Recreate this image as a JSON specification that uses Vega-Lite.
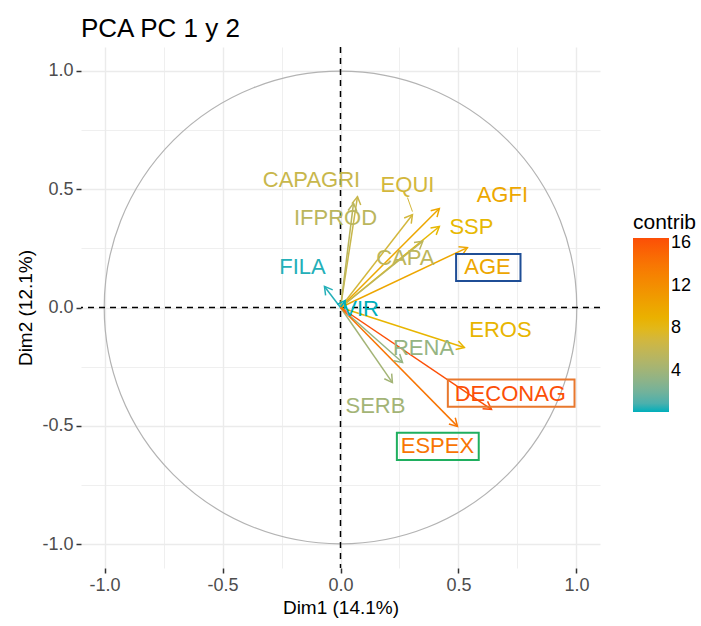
{
  "$schema": "https://vega.github.io/schema/vega-lite/v6.json",
  "width": 519,
  "height": 521,
  "autosize": {"type": "none"},
  "padding": {"left": 81, "top": 47, "right": 101, "bottom": 58},
  "background": "white",
  "config": {
    "view": {"stroke": null},
    "font": "Liberation Sans",
    "legend": {
      "gradientLength": 174,
      "gradientThickness": 36,
      "gradientStrokeWidth": 0,
      "titleFontSize": 21,
      "titleFontWeight": "normal",
      "titleColor": "black",
      "titlePadding": 5,
      "labelFontSize": 18,
      "labelColor": "black",
      "labelOffset": 7,
      "padding": 0
    }
  },
  "title": {"text": "PCA PC 1 y 2", "anchor": "start", "frame": "group", "fontSize": 26, "fontWeight": "normal", "color": "black", "font": "Liberation Sans", "offset": 4},
  "resolve": {"legend": {"color": "independent"}},
  "datasets": {
    "vars": [
      {"name": "CAPAGRI", "x": 0.072, "y": 0.468, "contrib": 6.3, "lx": -0.123, "ly": 0.540},
      {"name": "IFPROD", "x": 0.055, "y": 0.44, "contrib": 5.5, "lx": -0.021, "ly": 0.380},
      {"name": "EQUI", "x": 0.305, "y": 0.392, "contrib": 7.0, "lx": 0.284, "ly": 0.519},
      {"name": "AGFI", "x": 0.419, "y": 0.418, "contrib": 9.9, "lx": 0.686, "ly": 0.473},
      {"name": "SSP", "x": 0.419, "y": 0.342, "contrib": 8.3, "lx": 0.555, "ly": 0.338},
      {"name": "CAPA", "x": 0.349, "y": 0.280, "contrib": 5.6, "lx": 0.275, "ly": 0.207},
      {"name": "AGE", "x": 0.538, "y": 0.253, "contrib": 10.0, "lx": 0.623, "ly": 0.169},
      {"name": "FILA", "x": -0.068, "y": 0.089, "contrib": 0.4, "lx": -0.161, "ly": 0.169},
      {"name": "VIR", "x": 0.02, "y": 0.03, "contrib": 0.2, "lx": 0.085, "ly": -0.008},
      {"name": "EROS", "x": 0.525, "y": -0.169, "contrib": 8.6, "lx": 0.678, "ly": -0.093},
      {"name": "RENA", "x": 0.263, "y": -0.232, "contrib": 3.5, "lx": 0.352, "ly": -0.169},
      {"name": "SERB", "x": 0.22, "y": -0.317, "contrib": 4.2, "lx": 0.148, "ly": -0.414},
      {"name": "DECONAG", "x": 0.64, "y": -0.43, "contrib": 16.4, "lx": 0.720, "ly": -0.367},
      {"name": "ESPEX", "x": 0.496, "y": -0.502, "contrib": 14.0, "lx": 0.411, "ly": -0.586}
    ],
    "boxes": [
      {"box": "AGE", "x1": 0.490, "x2": 0.763, "y1": 0.226, "y2": 0.112},
      {"box": "DECONAG", "x1": 0.455, "x2": 0.992, "y1": -0.304, "y2": -0.419},
      {"box": "ESPEX", "x1": 0.239, "x2": 0.586, "y1": -0.529, "y2": -0.644}
    ],
    "leader": [
      {"x": 0.284, "y": 0.464, "x2": 0.305, "y2": 0.405, "contrib": 7.0}
    ]
  },
  "layer": [
    {
      "data": {"values": [{"cx": 0, "cy": 0}]},
      "mark": {"type": "point", "shape": "circle", "filled": false, "size": 223350, "stroke": "#B3B3B3", "strokeWidth": 1.2, "opacity": 1},
      "encoding": {
        "x": {
          "field": "cx", "type": "quantitative", "title": "Dim1 (14.1%)",
          "scale": {"domain": [-1.1, 1.1], "nice": false, "zero": false},
          "axis": {
            "values": [-1, -0.75, -0.5, -0.25, 0, 0.25, 0.5, 0.75, 1],
            "labelExpr": "abs(datum.value*2 - round(datum.value*2)) < 0.01 ? replace(format(datum.value, '.1f'), '\u2212', '-') : ''",
            "labelOverlap": false,
            "domain": false,
            "grid": true,
            "gridColor": "#EBEBEB",
            "gridWidth": {"condition": {"test": "abs(datum.value*2 - round(datum.value*2)) < 0.01", "value": 1.4}, "value": 0.8},
            "tickColor": {"condition": {"test": "abs(datum.value*2 - round(datum.value*2)) < 0.01", "value": "#333333"}, "value": "transparent"},
            "tickSize": 5,
            "tickWidth": 1.5,
            "labelFontSize": 18,
            "labelColor": "#4D4D4D",
            "labelPadding": 3,
            "titleFontSize": 19,
            "titleFontWeight": "normal",
            "titleColor": "black",
            "titlePadding": 4
          }
        },
        "y": {
          "field": "cy", "type": "quantitative", "title": "Dim2 (12.1%)",
          "scale": {"domain": [-1.1, 1.1], "nice": false, "zero": false},
          "axis": {
            "values": [-1, -0.75, -0.5, -0.25, 0, 0.25, 0.5, 0.75, 1],
            "labelExpr": "abs(datum.value*2 - round(datum.value*2)) < 0.01 ? replace(format(datum.value, '.1f'), '\u2212', '-') : ''",
            "labelOverlap": false,
            "domain": false,
            "grid": true,
            "gridColor": "#EBEBEB",
            "gridWidth": {"condition": {"test": "abs(datum.value*2 - round(datum.value*2)) < 0.01", "value": 1.4}, "value": 0.8},
            "tickColor": {"condition": {"test": "abs(datum.value*2 - round(datum.value*2)) < 0.01", "value": "#333333"}, "value": "transparent"},
            "tickSize": 5,
            "tickWidth": 1.5,
            "labelFontSize": 18,
            "labelColor": "#4D4D4D",
            "labelPadding": 3,
            "titleFontSize": 19,
            "titleFontWeight": "normal",
            "titleColor": "black",
            "titlePadding": 6
          }
        }
      }
    },
    {
      "data": {"values": [{"v": 0}]},
      "mark": {"type": "rule", "color": "black", "strokeWidth": 1.5, "strokeDash": [6, 5]},
      "encoding": {"x": {"field": "v", "type": "quantitative", "title": "Dim1 (14.1%)"}}
    },
    {
      "data": {"values": [{"v": 0}]},
      "mark": {"type": "rule", "color": "black", "strokeWidth": 1.5, "strokeDash": [6, 5]},
      "encoding": {"y": {"field": "v", "type": "quantitative", "title": "Dim2 (12.1%)"}}
    },
    {
      "data": {"name": "vars"},
      "mark": {"type": "rule", "strokeWidth": 1.5},
      "encoding": {
        "x": {"field": "x", "type": "quantitative", "title": "Dim1 (14.1%)"},
        "y": {"field": "y", "type": "quantitative", "title": "Dim2 (12.1%)"},
        "x2": {"datum": 0},
        "y2": {"datum": 0},
        "color": {
          "field": "contrib", "type": "quantitative",
          "scale": {"domain": [0.2, 8.32, 16.44], "range": ["#00AFBB", "#E7B800", "#FC4E07"], "interpolate": "lab"},
          "legend": {"type": "gradient", "title": "contrib", "orient": "none", "legendX": 552, "legendY": 165, "values": [4, 8, 12, 16]}
        }
      }
    },
    {
      "data": {"name": "vars"},
      "transform": [{"calculate": "atan2(datum.x, datum.y) * 180 / PI", "as": "ang"}],
      "mark": {"type": "point", "shape": "M-0.5,0.866L0,0L0.5,0.866", "filled": false, "size": 320, "strokeWidth": 1.5, "opacity": 1},
      "encoding": {
        "x": {"field": "x", "type": "quantitative", "title": "Dim1 (14.1%)"},
        "y": {"field": "y", "type": "quantitative", "title": "Dim2 (12.1%)"},
        "angle": {"field": "ang", "type": "quantitative", "scale": {"domain": [-180, 180], "range": [-180, 180], "zero": false, "nice": false}, "legend": null},
        "color": {
          "field": "contrib", "type": "quantitative",
          "scale": {"domain": [0.2, 8.32, 16.44], "range": ["#00AFBB", "#E7B800", "#FC4E07"], "interpolate": "lab"},
          "legend": null
        }
      }
    },
    {
      "data": {"name": "vars"},
      "mark": {"type": "text", "fontSize": 22, "font": "Liberation Sans", "align": "center", "baseline": "middle"},
      "encoding": {
        "x": {"field": "lx", "type": "quantitative", "title": "Dim1 (14.1%)"},
        "y": {"field": "ly", "type": "quantitative", "title": "Dim2 (12.1%)"},
        "text": {"field": "name"},
        "color": {
          "field": "contrib", "type": "quantitative",
          "scale": {"domain": [0.2, 8.32, 16.44], "range": ["#00AFBB", "#E7B800", "#FC4E07"], "interpolate": "lab"},
          "legend": null
        }
      }
    },
    {
      "data": {"name": "leader"},
      "mark": {"type": "rule", "strokeWidth": 1},
      "encoding": {
        "x": {"field": "x", "type": "quantitative", "title": "Dim1 (14.1%)"},
        "y": {"field": "y", "type": "quantitative", "title": "Dim2 (12.1%)"},
        "x2": {"field": "x2"},
        "y2": {"field": "y2"},
        "color": {
          "field": "contrib", "type": "quantitative",
          "scale": {"domain": [0.2, 8.32, 16.44], "range": ["#00AFBB", "#E7B800", "#FC4E07"], "interpolate": "lab"},
          "legend": null
        }
      }
    },
    {
      "data": {"name": "boxes"},
      "mark": {"type": "rect", "fill": "transparent", "strokeWidth": 2},
      "encoding": {
        "x": {"field": "x1", "type": "quantitative", "title": "Dim1 (14.1%)"},
        "x2": {"field": "x2"},
        "y": {"field": "y1", "type": "quantitative", "title": "Dim2 (12.1%)"},
        "y2": {"field": "y2"},
        "stroke": {"field": "box", "type": "nominal", "scale": {"domain": ["AGE", "DECONAG", "ESPEX"], "range": ["#1F4E96", "#E8782E", "#1FAF5F"]}, "legend": null}
      }
    }
  ]
}
